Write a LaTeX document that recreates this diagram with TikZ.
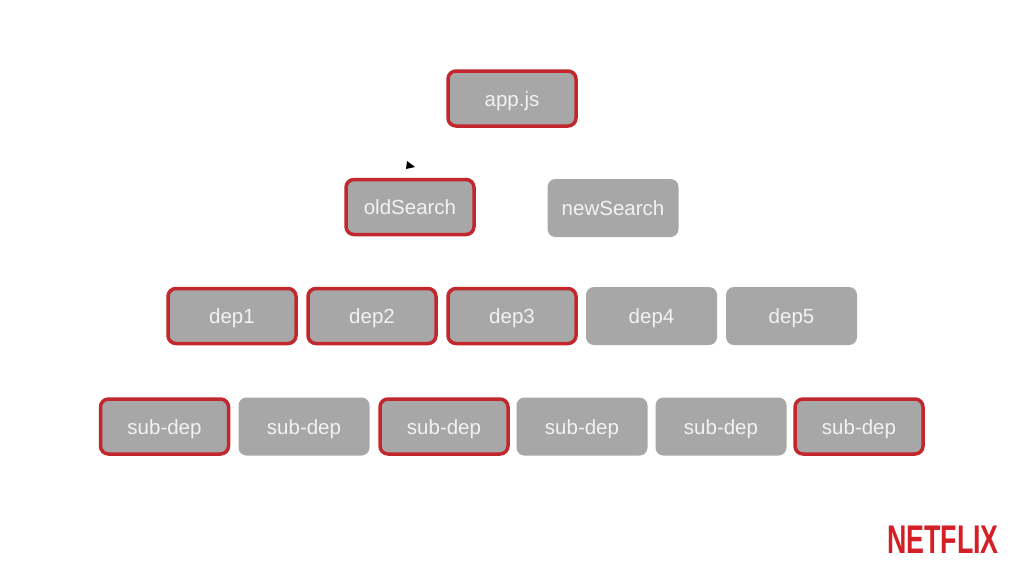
\documentclass[tikz,border=0pt]{standalone}
\usepackage{fontspec}
\setmainfont{Liberation Sans}
\newfontfamily\logofont{Liberation Sans}
\definecolor{boxgray}{HTML}{A7A7A7}
\definecolor{boxred}{HTML}{C1272D}
\definecolor{boxtext}{HTML}{F2F2F2}
\definecolor{nflx}{HTML}{D41F27}
\begin{document}
\begin{tikzpicture}[x=1pt,y=-1pt,
  mod/.style={rectangle, rounded corners=8pt, fill=boxgray, text=boxtext,
    minimum width=131pt, minimum height=58pt, inner sep=0pt,
    text height=16pt, text depth=1pt,
    font=\fontsize{20.5}{20.5}\selectfont},
  hit/.style={mod, draw=boxred, line width=3.5pt, minimum width=128pt, minimum height=55pt}]
\useasboundingbox[fill=white] (0,0) rectangle (1024,576);
\node[hit] (app) at (512,98.5) {app.js};
\node[hit] (old) at (410,207) {oldSearch};
\node[mod] (new) at (613,208) {newSearch};
\node[hit] (d1) at (232,316) {dep1};
\node[hit] (d2) at (372,316) {dep2};
\node[hit] (d3) at (512,316) {dep3};
\node[mod] (d4) at (651.5,316) {dep4};
\node[mod] (d5) at (791.5,316) {dep5};
\node[hit] (s1) at (164.5,426.5) {sub-dep};
\node[mod] (s2) at (304,426.5) {sub-dep};
\node[hit] (s3) at (444,426.5) {sub-dep};
\node[mod] (s4) at (582,426.5) {sub-dep};
\node[mod] (s5) at (721,426.5) {sub-dep};
\node[hit] (s6) at (859,426.5) {sub-dep};
\fill[black] (407,161) -- (415,167) -- (406,169) -- cycle;
\node[text=nflx, inner sep=0pt, font=\logofont\bfseries\fontsize{40}{40}\selectfont, xscale=0.67] (logo) at (943,540) {NETFLIX};
\end{tikzpicture}
\end{document}
